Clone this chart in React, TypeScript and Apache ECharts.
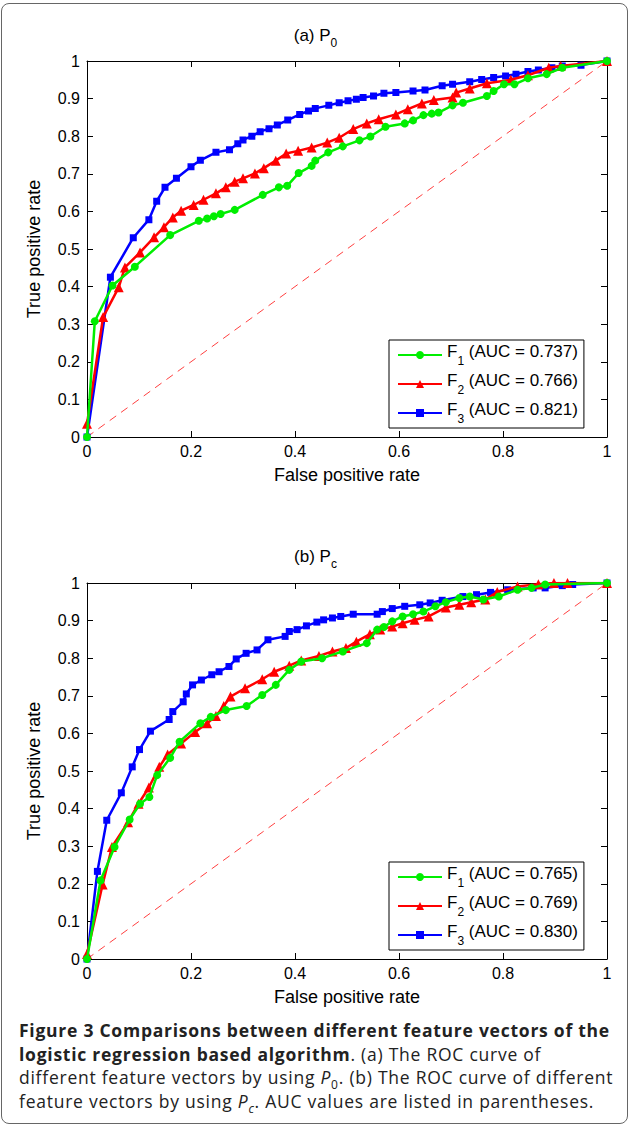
import { useEffect, useRef } from 'react';
import * as echarts from 'echarts';

// ROC points [fpr, tpr]
const topF1 = [[0,0],[0.015,0.308],[0.049,0.403],[0.092,0.453],[0.16,0.537],[0.215,0.575],[0.231,0.581],[0.244,0.587],[0.257,0.593],[0.284,0.604],[0.338,0.644],[0.369,0.664],[0.385,0.668],[0.407,0.702],[0.432,0.721],[0.439,0.735],[0.464,0.757],[0.492,0.773],[0.524,0.789],[0.545,0.799],[0.574,0.825],[0.611,0.834],[0.627,0.842],[0.647,0.856],[0.663,0.86],[0.676,0.863],[0.703,0.882],[0.723,0.889],[0.769,0.907],[0.782,0.92],[0.802,0.938],[0.822,0.938],[0.848,0.954],[0.884,0.965],[0.914,0.982],[1,1]];
const topF2 = [[0,0.035],[0.031,0.319],[0.061,0.398],[0.073,0.451],[0.102,0.491],[0.129,0.531],[0.148,0.558],[0.165,0.584],[0.181,0.602],[0.205,0.617],[0.224,0.631],[0.248,0.648],[0.267,0.664],[0.284,0.679],[0.3,0.688],[0.323,0.701],[0.34,0.715],[0.363,0.735],[0.383,0.754],[0.406,0.761],[0.432,0.77],[0.462,0.783],[0.485,0.796],[0.512,0.819],[0.538,0.834],[0.561,0.845],[0.594,0.858],[0.617,0.872],[0.644,0.887],[0.667,0.896],[0.703,0.903],[0.71,0.916],[0.736,0.927],[0.769,0.941],[0.815,0.95],[0.848,0.962],[0.888,0.982],[0.911,0.987],[1,1]];
const topF3 = [[0,0],[0.045,0.425],[0.089,0.53],[0.119,0.578],[0.134,0.627],[0.15,0.664],[0.172,0.688],[0.2,0.719],[0.218,0.736],[0.248,0.757],[0.274,0.764],[0.29,0.78],[0.3,0.79],[0.317,0.8],[0.333,0.812],[0.35,0.82],[0.366,0.83],[0.386,0.843],[0.409,0.858],[0.426,0.867],[0.439,0.874],[0.465,0.882],[0.485,0.889],[0.502,0.894],[0.518,0.898],[0.531,0.903],[0.551,0.907],[0.571,0.914],[0.594,0.916],[0.627,0.92],[0.65,0.923],[0.683,0.934],[0.703,0.938],[0.736,0.945],[0.759,0.951],[0.782,0.956],[0.805,0.96],[0.825,0.965],[0.848,0.972],[0.868,0.976],[0.894,0.982],[0.914,0.987],[0.95,0.989],[1,1]];

const botF1 = [[0,0],[0.026,0.209],[0.053,0.298],[0.082,0.371],[0.102,0.413],[0.12,0.431],[0.135,0.489],[0.16,0.535],[0.178,0.578],[0.218,0.627],[0.238,0.644],[0.267,0.662],[0.307,0.673],[0.337,0.702],[0.363,0.729],[0.389,0.769],[0.412,0.791],[0.452,0.8],[0.492,0.818],[0.538,0.84],[0.558,0.876],[0.571,0.883],[0.587,0.898],[0.607,0.911],[0.627,0.917],[0.647,0.924],[0.67,0.938],[0.69,0.949],[0.716,0.96],[0.736,0.964],[0.762,0.956],[0.792,0.964],[0.828,0.982],[0.855,0.987],[0.881,0.996],[1,1]];
const botF2 = [[0,0.013],[0.03,0.198],[0.048,0.298],[0.079,0.364],[0.099,0.413],[0.119,0.456],[0.139,0.511],[0.155,0.544],[0.181,0.573],[0.208,0.604],[0.231,0.627],[0.248,0.646],[0.263,0.673],[0.276,0.698],[0.304,0.72],[0.337,0.744],[0.36,0.764],[0.389,0.78],[0.412,0.794],[0.446,0.806],[0.472,0.818],[0.498,0.827],[0.518,0.844],[0.544,0.864],[0.564,0.876],[0.587,0.884],[0.607,0.893],[0.63,0.902],[0.657,0.911],[0.69,0.935],[0.716,0.942],[0.739,0.949],[0.766,0.956],[0.789,0.976],[0.828,0.991],[0.868,0.997],[0.898,1],[0.924,1],[1,1]];
const botF3 = [[0,0],[0.02,0.233],[0.038,0.369],[0.066,0.442],[0.087,0.511],[0.101,0.557],[0.122,0.606],[0.158,0.637],[0.165,0.658],[0.185,0.684],[0.191,0.705],[0.203,0.729],[0.22,0.742],[0.24,0.756],[0.254,0.764],[0.273,0.778],[0.287,0.798],[0.306,0.813],[0.327,0.822],[0.348,0.849],[0.381,0.858],[0.389,0.871],[0.404,0.876],[0.422,0.886],[0.442,0.896],[0.455,0.902],[0.472,0.907],[0.488,0.911],[0.512,0.917],[0.558,0.917],[0.568,0.924],[0.587,0.932],[0.611,0.938],[0.64,0.942],[0.66,0.947],[0.683,0.954],[0.723,0.964],[0.749,0.969],[0.776,0.975],[0.809,0.982],[0.858,0.987],[0.881,0.987],[0.914,0.993],[0.934,0.996],[1,1]];

const aucTop = ['0.737', '0.766', '0.821'];
const aucBot = ['0.765', '0.769', '0.830'];
const xTicks = [0, 0.2, 0.4, 0.6, 0.8, 1];

const FONT = '"Liberation Sans", Arial, sans-serif';
const GRID_TOPS = [61, 583];

const styles = [
  { color: '#00ee00', symbol: 'circle', size: 8 },
  { color: '#ff0000', symbol: 'triangle', size: 10 },
  { color: '#0000ff', symbol: 'rect', size: 7 },
];

const subRich = { fontSize: 12, lineHeight: 12, verticalAlign: 'bottom', fontFamily: FONT };

function axes(gi: number) {
  const common = {
    gridIndex: gi, type: 'value', min: 0, max: 1,
    axisLine: { show: true, onZero: false, lineStyle: { color: '#000', width: 1 } },
    axisTick: { show: true, inside: true, length: 6, lineStyle: { color: '#000' } },
    splitLine: { show: false },
  };
  const xs = [
    { ...common, position: 'bottom', interval: 0.2,
      axisLabel: { color: '#000', fontSize: 16, fontFamily: FONT, margin: 6,
        formatter: (v: number) => (xTicks.includes(+v.toFixed(1)) ? String(+v.toFixed(1)) : '') },
      name: 'False positive rate', nameLocation: 'middle', nameGap: 29,
      nameTextStyle: { color: '#000', fontSize: 18, fontFamily: FONT } },
    { ...common, position: 'top', interval: 0.2, axisLabel: { show: false } },
  ];
  const ys = [
    { ...common, position: 'left', interval: 0.1,
      axisLabel: { color: '#000', fontSize: 16, fontFamily: FONT, margin: 7,
        formatter: (v: number) => String(+v.toFixed(1)) },
      name: 'True positive rate', nameLocation: 'middle', nameGap: 44,
      nameTextStyle: { color: '#000', fontSize: 18, fontFamily: FONT } },
    { ...common, position: 'right', interval: 0.1, axisLabel: { show: false } },
  ];
  return { xs, ys };
}

export default function App() {
  const ref = useRef<HTMLDivElement | null>(null);

  useEffect(() => {
    document.body.style.margin = '0';
    if (!ref.current) return;
    const chart = echarts.init(ref.current, undefined, { renderer: 'svg' });
    const a0 = axes(0);
    const a1 = axes(1);
    const sets = [[topF1, topF2, topF3], [botF1, botF2, botF3]];
    const aucs = [aucTop, aucBot];
    const series: any[] = [];
    sets.forEach((set, gi) => {
      series.push({
        type: 'line', xAxisIndex: gi * 2, yAxisIndex: gi * 2, data: [[0, 0], [1, 1]],
        symbol: 'none', silent: true, lineStyle: { color: '#ff4040', width: 1, type: [8, 6] },
      });
      set.forEach((d, k) => {
        series.push({
          name: `F${k + 1}-${gi}`, type: 'line', xAxisIndex: gi * 2, yAxisIndex: gi * 2,
          data: d, symbol: styles[k].symbol, symbolSize: styles[k].size, showAllSymbol: true,
          lineStyle: { color: styles[k].color, width: 2.5 },
          itemStyle: { color: styles[k].color },
          z: 3 + (2 - k),
        });
      });
    });
    const legends = [0, 1].map((gi) => ({
      data: [0, 1, 2].map((k) => `F${k + 1}-${gi}`),
      orient: 'vertical', left: 388, top: GRID_TOPS[gi] + 279,
      width: 194, backgroundColor: '#fff', borderColor: '#000', borderWidth: 1,
      padding: [3, 6, 3, 8], itemGap: 5, itemWidth: 44, itemHeight: 10,
      formatter: (n: string) => {
        const k = +n[1];
        return `{m|F}{sub|${k}}{m| (AUC = ${aucs[gi][k - 1]})}`;
      },
      textStyle: { color: '#000', fontSize: 17, fontFamily: FONT,
        rich: { m: { fontSize: 17, lineHeight: 24, verticalAlign: 'top', fontFamily: FONT }, sub: subRich } },
    }));
    const titleStyle = {
      color: '#000', fontSize: 16, fontWeight: 'normal', fontFamily: FONT,
      rich: { m: { fontSize: 17, lineHeight: 22, verticalAlign: 'top', fontFamily: FONT }, s: subRich },
    };
    chart.setOption({
      animation: false,
      title: [
        { text: '{m|(a) P}{s|0}', left: 'center', top: 22, textStyle: titleStyle },
        { text: '{m|(b) P}{s|c}', left: 'center', top: 543, textStyle: titleStyle },
      ],
      grid: GRID_TOPS.map((t) => ({ left: 86, top: t, width: 520, height: 376 })),
      xAxis: [...a0.xs, ...a1.xs.map((x) => ({ ...x, gridIndex: 1 }))],
      yAxis: [...a0.ys, ...a1.ys.map((y) => ({ ...y, gridIndex: 1 }))],
      legend: legends,
      series,
    });
    return () => chart.dispose();
  }, []);

  const sub = { fontSize: 12, lineHeight: 0 };
  return (
    <div style={{ position: 'relative', width: 627, height: 1121, border: '1px solid #666',
      borderRadius: 8, boxSizing: 'border-box', marginLeft: 1, marginTop: 3, overflow: 'hidden' }}>
      <div ref={ref} style={{ position: 'absolute', left: -1, top: -4, width: 629, height: 1010 }} />
      <div style={{ position: 'absolute', left: 17, top: 1015, width: 610, whiteSpace: 'nowrap',
        fontFamily: '"Open Sans", sans-serif', fontSize: 17.5, letterSpacing: '0.75px',
        lineHeight: '23.5px', color: '#222' }}>
        <b>Figure 3 Comparisons between different feature vectors of the</b><br />
        <b>logistic regression based algorithm</b>. (a) The ROC curve of<br />
        different feature vectors by using <i>P</i><sub style={sub}>0</sub>. (b) The ROC curve of different<br />
        feature vectors by using <i>P</i><sub style={sub}><i>c</i></sub>. AUC values are listed in parentheses.
      </div>
    </div>
  );
}
